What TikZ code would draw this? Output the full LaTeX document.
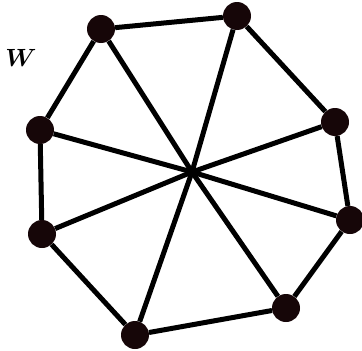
\documentclass[tikz,border=0pt]{standalone}
\usepackage{amsmath}
\usepackage{tikz}
\usetikzlibrary{calc}

\definecolor{dotcol}{RGB}{22,6,8}

\begin{document}
\begin{tikzpicture}[x=1pt, y=-1pt,
  vtx/.style={circle, fill=dotcol, inner sep=0pt, minimum size=28pt},
  edge/.style={line width=5pt, black}]
\useasboundingbox (0,0) rectangle (362,351);

% Outer vertices
\node[vtx] (v1) at (101,29) {};
\node[vtx] (v2) at (237,16) {};
\node[vtx] (v3) at (335,122) {};
\node[vtx] (v4) at (350,220) {};
\node[vtx] (v5) at (286,308) {};
\node[vtx] (v6) at (135,335) {};
\node[vtx] (v7) at (42,234) {};
\node[vtx] (v8) at (40,130) {};
\coordinate (c) at (192,172);

% Rim
\draw[edge] (v1) -- (v2) -- (v3) -- (v4) -- (v5) -- (v6) -- (v7) -- (v8) -- (v1);

% Spokes
\foreach \v in {v1,v2,v3,v4,v5,v6,v7,v8}
  \draw[edge] (c) -- (\v);

% Label
\node (lbl) at (21,58) {\fontsize{25}{25}\selectfont$\boldsymbol{W}$};
\end{tikzpicture}
\end{document}
